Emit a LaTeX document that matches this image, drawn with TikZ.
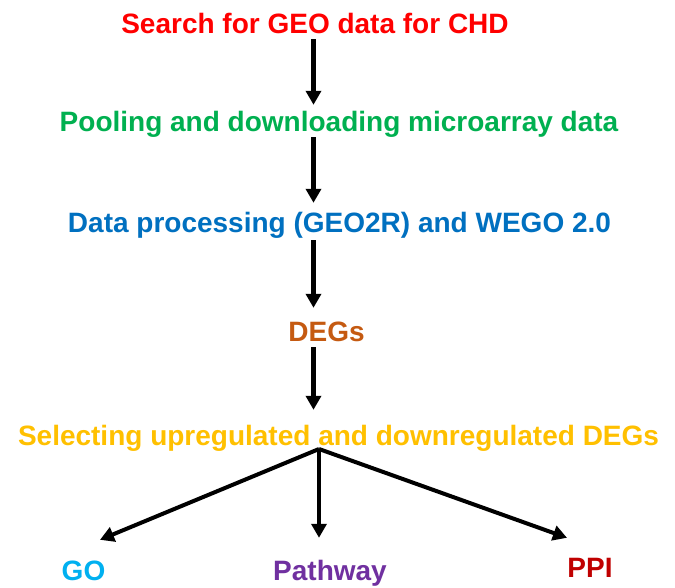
\documentclass[tikz,border=0pt]{standalone}
\usepackage{fontspec}
\setmainfont{Liberation Sans}
\usetikzlibrary{arrows.meta}
\definecolor{cRed}{HTML}{FF0000}
\definecolor{cGreen}{HTML}{00B050}
\definecolor{cBlue}{HTML}{0070C0}
\definecolor{cOrange}{HTML}{C55A11}
\definecolor{cYellow}{HTML}{FFC000}
\definecolor{cSky}{HTML}{00B0F0}
\definecolor{cPurple}{HTML}{7030A0}
\definecolor{cDarkRed}{HTML}{C00000}
\begin{document}
\begin{tikzpicture}[x=1pt,y=-1pt,
  lbl/.style={font=\fontsize{28}{30}\selectfont\bfseries, inner sep=0pt, anchor=base,
              text height=20pt, text depth=6pt},
  arr/.style={line width=4.5pt, -{Triangle[width=15pt,length=14pt]}},
  br/.style={line width=4pt, -{Triangle[width=15pt,length=14pt]}}]
\useasboundingbox[fill=white] (0,0) rectangle (675,587);
\node[lbl,text=cRed]    (n1) at (315,33)  {Search for GEO data for CHD};
\node[lbl,text=cGreen]  (n2) at (339,131) {Pooling and downloading microarray data};
\node[lbl,text=cBlue]   (n3) at (339.5,232) {Data processing (GEO2R) and WEGO 2.0};
\node[lbl,text=cOrange] (n4) at (326.5,341) {DEGs};
\node[lbl,text=cYellow] (n5) at (338.5,445) {Selecting upregulated and downregulated DEGs};
\node[lbl,text=cSky]    (go)  at (83.5,580) {GO};
\node[lbl,text=cPurple] (pw)  at (330,580)  {Pathway};
\node[lbl,text=cDarkRed](ppi) at (590,577)  {PPI};
\coordinate (ax) at (313.5,0);
\draw[arr, shorten >=6pt] (n1.south -| ax) -- (n2.north -| ax);
\draw[arr, shorten >=9pt] (n2.south -| ax) -- (n3.north -| ax);
\draw[arr, shorten <=2pt, shorten >=13pt] (n3.south -| ax) -- (n4.north -| ax);
\draw[arr, shorten >=15pt] (n4.south -| ax) -- (n5.north -| ax);
\coordinate (b) at (319,449);
\draw[br] (b) -- ([xshift=16.5pt,yshift=20pt]go.north);
\draw[br, shorten >=22pt] (b) -- (b |- pw.north);
\draw[br] (b) -- ([xshift=-23pt,yshift=19pt]ppi.north);
\end{tikzpicture}
\end{document}
